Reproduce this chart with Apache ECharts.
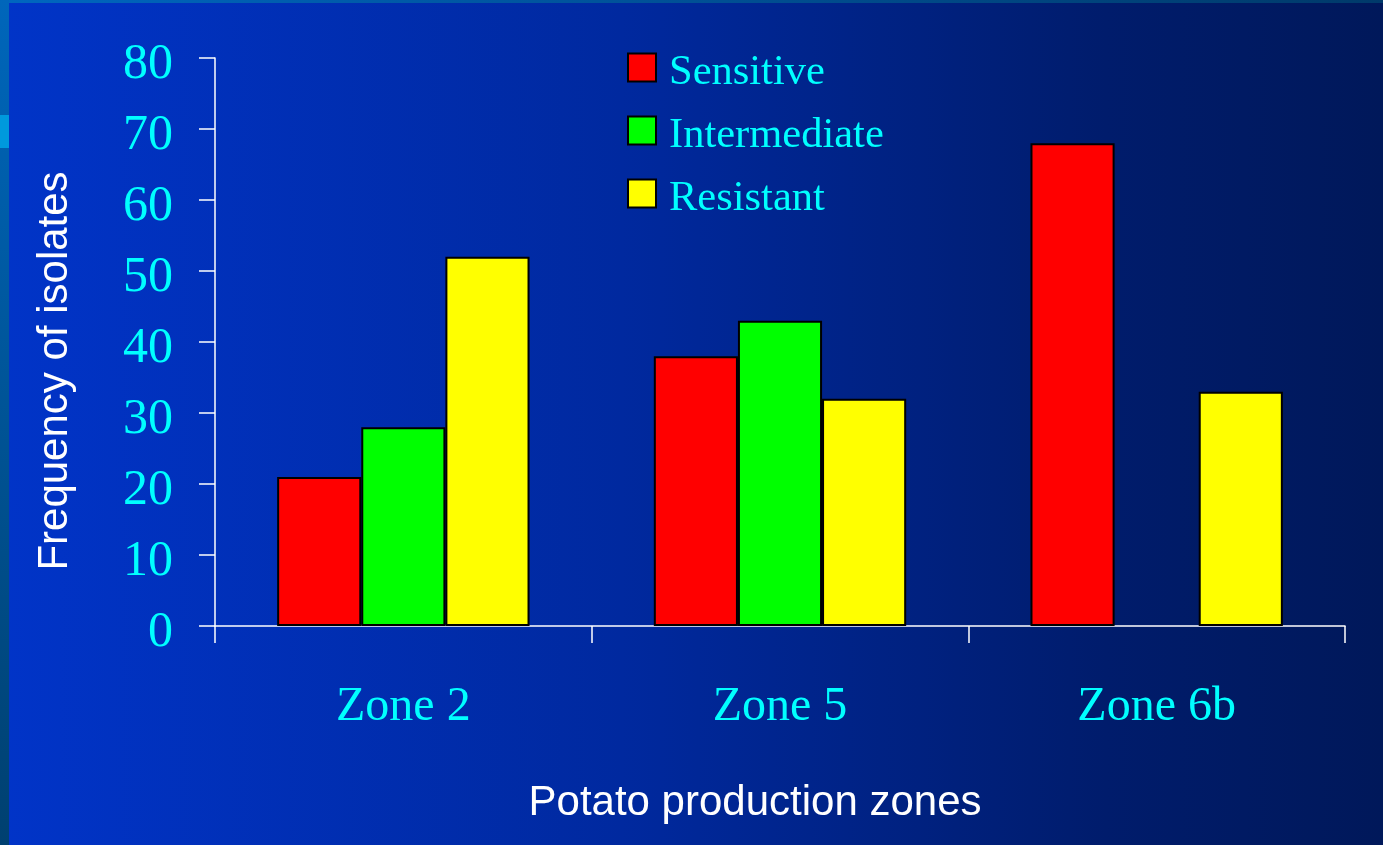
<!DOCTYPE html>
<html>
<head>
<meta charset="utf-8">
<script src="https://cdn.jsdelivr.net/npm/echarts@6/dist/echarts.min.js"></script>
<style>
html,body{margin:0;padding:0;width:1383px;height:845px;overflow:hidden;}
#chart{width:1383px;height:845px;}
</style>
</head>
<body>
<div id="chart"></div>
<script>
const categories = ['Zone 2', 'Zone 5', 'Zone 6b'];
const sensitive = [21, 38, 68];
const intermediate = [28, 43, null];
const resistant = [52, 32, 33];
const seriesNames = ['Sensitive', 'Intermediate', 'Resistant'];
const seriesColors = ['#FF0000', '#00FF00', '#FFFF00'];
const yTicks = { min: 0, max: 80, interval: 10 };

const chart = echarts.init(document.getElementById('chart'));
const serif = '"Liberation Serif", "Times New Roman", serif';
const sans = '"Liberation Sans", Arial, sans-serif';

const mkSeries = (name, data, color) => ({
  name: name,
  type: 'bar',
  data: data,
  barGap: '0%',
  barCategoryGap: '33%',
  itemStyle: { color: color, borderColor: '#000', borderWidth: 2 },
  emphasis: { disabled: true }
});

chart.setOption({
  animation: false,
  backgroundColor: {
    type: 'linear', x: 0, y: 0, x2: 1, y2: 0,
    colorStops: [
      { offset: 0, color: '#0134c8' },
      { offset: 0.45, color: '#00299f' },
      { offset: 0.8, color: '#001c6c' },
      { offset: 1, color: '#00185a' }
    ]
  },
  graphic: [
    { type: 'rect', shape: { x: 0, y: 0, width: 1383, height: 3 }, silent: true,
      style: { fill: { type: 'linear', x: 0, y: 0, x2: 1, y2: 0, colorStops: [{ offset: 0, color: '#0066c0' }, { offset: 1, color: '#003a6a' }] } } },
    { type: 'rect', shape: { x: 0, y: 0, width: 9, height: 845 }, silent: true,
      style: { fill: { type: 'linear', x: 0, y: 0, x2: 0, y2: 1, colorStops: [{ offset: 0, color: '#0066bb' }, { offset: 1, color: '#004070' }] } } },
    { type: 'rect', shape: { x: 0, y: 115, width: 9, height: 33 }, silent: true, style: { fill: '#0099dd' } }
  ],
  legend: {
    orient: 'vertical',
    left: 622,
    top: 46,
    itemWidth: 28,
    itemHeight: 28,
    itemGap: 20,
    icon: 'rect',
    data: seriesNames,
    formatter: '{a|{name}}',
    textStyle: {
      color: '#00FFFF', fontFamily: serif, fontSize: 42.5,
      rich: { a: { color: '#00FFFF', fontFamily: serif, fontSize: 42.5, padding: [10, 0, 0, 8] } }
    }
  },
  grid: { left: 215, right: 38, top: 58, bottom: 219, containLabel: false },
  xAxis: {
    type: 'category',
    data: categories,
    name: 'Potato production zones',
    nameLocation: 'middle',
    nameGap: 156,
    nameTextStyle: { color: '#FFFFFF', fontFamily: sans, fontSize: 42, padding: [0, 50, 0, 0] },
    axisLine: { lineStyle: { color: '#FFFFFF', width: 1.5 } },
    axisTick: { show: true, length: 17, lineStyle: { color: '#FFFFFF', width: 1.5 } },
    axisLabel: { color: '#00FFFF', fontFamily: serif, fontSize: 48, margin: 57 }
  },
  yAxis: {
    type: 'value',
    min: yTicks.min,
    max: yTicks.max,
    interval: yTicks.interval,
    name: 'Frequency of isolates',
    nameLocation: 'middle',
    nameGap: 139,
    nameTextStyle: { color: '#FFFFFF', fontFamily: sans, fontSize: 42, padding: [0, 58, 0, 0] },
    axisLine: { show: true, lineStyle: { color: '#FFFFFF', width: 1.5 } },
    axisTick: { show: true, length: 16, lineStyle: { color: '#FFFFFF', width: 1.5 } },
    splitLine: { show: false },
    axisLabel: { color: '#00FFFF', fontFamily: serif, fontSize: 50, margin: 42, verticalAlign: 'top', lineHeight: 14 }
  },
  series: [
    mkSeries(seriesNames[0], sensitive, seriesColors[0]),
    mkSeries(seriesNames[1], intermediate, seriesColors[1]),
    mkSeries(seriesNames[2], resistant, seriesColors[2])
  ]
});
</script>
</body>
</html>
